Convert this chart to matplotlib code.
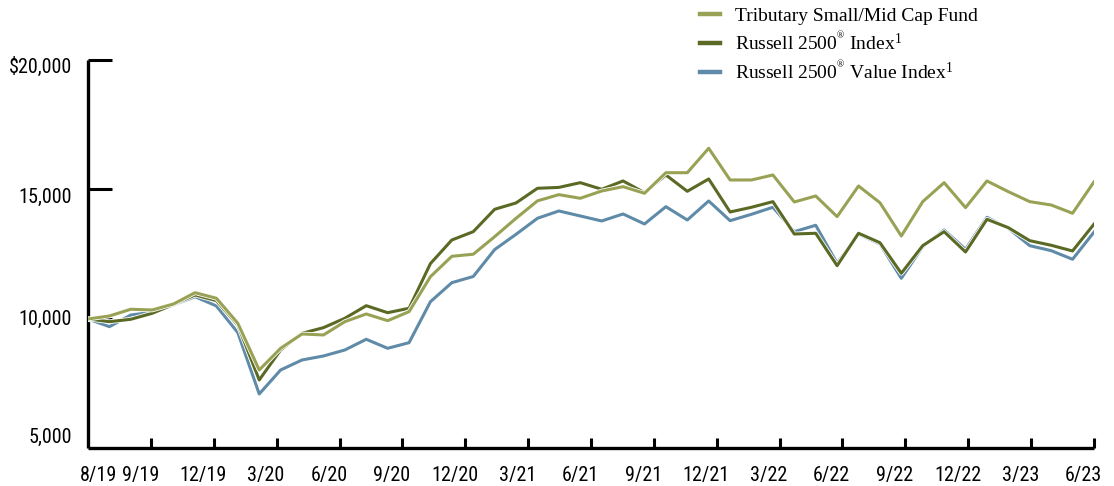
import numpy as np
import matplotlib
matplotlib.use("Agg")
import matplotlib.pyplot as plt
import matplotlib.patheffects as pe
from matplotlib.lines import Line2D
from matplotlib import font_manager

plt.rcParams['mathtext.fontset'] = 'custom'
plt.rcParams['mathtext.rm'] = 'Liberation Serif'
plt.rcParams['mathtext.it'] = 'Liberation Serif'

# monthly values, 48 points
tributary = [10000, 10116, 10375, 10348, 10580, 11015, 10800, 9834, 8031, 8868,
             9421, 9382, 9896, 10193, 9934, 10282, 11634, 12420, 12500, 13178,
             13888, 14560, 14800, 14660, 14942, 15108, 14853, 15648, 15648, 16591,
             15367, 15367, 15560, 14517, 14749, 13952, 15134, 14490, 13205, 14530,
             15263, 14299, 15329, 14915, 14530, 14401, 14081, 15290]
r2500 = [10000, 9896, 9988, 10220, 10560, 10927, 10708, 9768, 7645, 8803,
         9447, 9665, 10027, 10513, 10243, 10413, 12140, 13050, 13371, 14235,
         14480, 15046, 15080, 15263, 15008, 15329, 14876, 15560, 14930, 15406,
         14131, 14313, 14530, 13281, 13309, 12058, 13309, 12946, 11764, 12830,
         13371, 12587, 13849, 13525, 13023, 12846, 12626, 13660]
r2500_value = [10000, 9703, 10154, 10258, 10540, 10861, 10502, 9471, 7104, 8031,
               8417, 8571, 8803, 9216, 8868, 9085, 10668, 11402, 11640, 12680,
               13270, 13888, 14170, 13977, 13784, 14054, 13668, 14336, 13822, 14556,
               13796, 14042, 14313, 13371, 13618, 12150, 13281, 12896, 11571, 12791,
               13436, 12690, 13926, 13502, 12830, 12638, 12305, 13350]

x_labels = ['8/19', '9/19', '12/19', '3/20', '6/20', '9/20', '12/20', '3/21', '6/21',
            '9/21', '12/21', '3/22', '6/22', '9/22', '12/22', '3/23', '6/23']
y_ticks = [5000, 10000, 15000, 20000]
y_labels = ['5,000', '10,000', '15,000', '$20,000']

c_trib = '#99a254'
c_r2500 = '#5a6a24'
c_value = '#5f8ba8'

# a narrow sans for the axis labels, if one is around
names = {f.name for f in font_manager.fontManager.ttflist}
narrow = [n for n in ['Liberation Sans Narrow', 'DejaVu Sans Condensed', 'Roboto Condensed']
          if n in names]
sans = narrow + ['Roboto', 'DejaVu Sans']
sans_size = 14.5 if narrow else 12.5
serif = ['Liberation Serif', 'DejaVu Serif']

fig = plt.figure(figsize=(11.14, 4.86), dpi=100)
ax = fig.add_axes([0.079, 0.0772, 0.903, 0.7994])

x = np.arange(len(tributary))
lw = 2.2
halo = [pe.Stroke(linewidth=lw + 1.2, foreground='white'), pe.Normal()]
ax.plot(x, r2500_value, color=c_value, lw=lw, path_effects=halo, zorder=3)
ax.plot(x, r2500, color=c_r2500, lw=lw, path_effects=halo, zorder=4)
ax.plot(x, tributary, color=c_trib, lw=lw, path_effects=halo, zorder=5)

ax.set_xlim(0, len(x) - 1)
ax.set_ylim(5000, 20000)

for s in ['top', 'right']:
    ax.spines[s].set_visible(False)
for s in ['left', 'bottom']:
    ax.spines[s].set_linewidth(2.4)
    ax.spines[s].set_capstyle('butt')

# ticks
tick_x = np.linspace(2.94, len(x) - 1, 16)
ax.set_xticks(tick_x)
ax.set_xticklabels([])
ax.tick_params(axis='x', direction='in', length=7.5, width=2.2)
ax.set_yticks(y_ticks[1:])
ax.set_yticklabels([])
ax.tick_params(axis='y', direction='in', length=17.5, width=2.2)

# x labels (placed slightly left of ticks, like the original)
label_x = [0.47] + list(tick_x - 0.5)
for lx, lab in zip(label_x, x_labels):
    ax.annotate(lab, xy=(lx, 0), xycoords=('data', 'axes fraction'),
                xytext=(0, -19.5), textcoords='offset points',
                ha='center', va='center', fontsize=sans_size, family=sans)

# y labels
y_off = [8, 0, -6, -5]
for yv, lab, dy in zip(y_ticks, y_labels, y_off):
    ax.annotate(lab, xy=(0, yv), xycoords=('axes fraction', 'data'),
                xytext=(-11.5, dy), textcoords='offset points',
                ha='right', va='center', fontsize=sans_size, family=sans)

handles = [Line2D([], [], color=c_trib, lw=3.2),
           Line2D([], [], color=c_r2500, lw=3.2),
           Line2D([], [], color=c_value, lw=3.2)]
labels = ['Tributary Small/Mid Cap Fund',
          r'Russell 2500$^{{}^{\circledR}}$ Index$^{1}$',
          r'Russell 2500$^{{}^{\circledR}}$ Value Index$^{1}$']
leg = fig.legend(handles, labels, loc='upper left',
                 bbox_to_anchor=(700 / 1114, 1 - 7 / 486),
                 frameon=False, borderpad=0, borderaxespad=0,
                 handlelength=1.05, handletextpad=0.75, labelspacing=0.28,
                 prop={'family': serif, 'size': 14})

fig.savefig('out.png', dpi=100)
